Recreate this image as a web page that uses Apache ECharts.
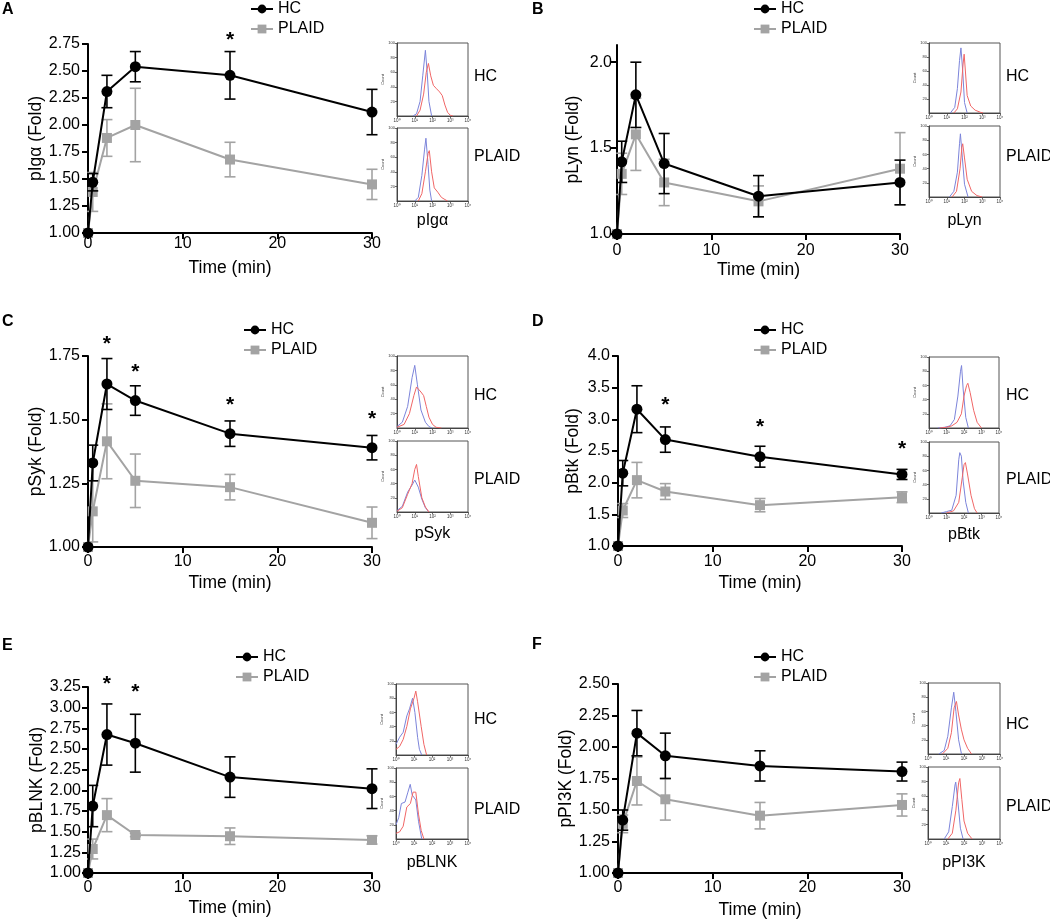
<!DOCTYPE html>
<html><head><meta charset="utf-8">
<script src="https://cdn.jsdelivr.net/npm/echarts@6/dist/echarts.min.js"></script>
<style>html,body{margin:0;padding:0;background:#fff}#c{width:1050px;height:920px}</style>
</head><body><div id="c"></div>
<script>
// ---------------- DATA ----------------
const time = [0, 0.5, 2, 5, 15, 30];
const xTicks = [0, 10, 20, 30];
const decadeLabels = ['10⁰', '10¹', '10²', '10³', '10⁴'];
const groups = ['HC', 'PLAID'];

const pIga_HC = [1.00, 1.47, 2.31, 2.54, 2.46, 2.12];
const pIga_HC_sem = [0, 0.08, 0.15, 0.14, 0.22, 0.21];
const pIga_PLAID = [1.00, 1.38, 1.88, 2.00, 1.68, 1.45];
const pIga_PLAID_sem = [0, 0.18, 0.17, 0.34, 0.16, 0.14];
const pIga_sig = [[15, 2.82]];

const pLyn_HC = [1.00, 1.42, 1.81, 1.41, 1.22, 1.30];
const pLyn_HC_sem = [0, 0.12, 0.19, 0.175, 0.12, 0.13];
const pLyn_PLAID = [1.00, 1.35, 1.58, 1.30, 1.19, 1.38];
const pLyn_PLAID_sem = [0, 0.12, 0.21, 0.135, 0.09, 0.21];
const pLyn_sig = [];

const pSyk_HC = [1.00, 1.33, 1.64, 1.575, 1.445, 1.39];
const pSyk_HC_sem = [0, 0.07, 0.10, 0.058, 0.05, 0.048];
const pSyk_PLAID = [1.00, 1.14, 1.415, 1.26, 1.235, 1.095];
const pSyk_PLAID_sem = [0, 0.12, 0.147, 0.105, 0.05, 0.062];
const pSyk_sig = [[2, 1.813], [5, 1.703], [15, 1.571], [30, 1.519]];

const pBtk_HC = [1.00, 2.15, 3.16, 2.68, 2.41, 2.13];
const pBtk_HC_sem = [0, 0.20, 0.37, 0.20, 0.165, 0.08];
const pBtk_PLAID = [1.00, 1.56, 2.04, 1.86, 1.645, 1.77];
const pBtk_PLAID_sem = [0, 0.11, 0.28, 0.125, 0.105, 0.085];
const pBtk_sig = [[5, 3.28], [15, 2.94], [30, 2.59]];

const pBLNK_HC = [1.00, 1.81, 2.675, 2.57, 2.16, 2.02];
const pBLNK_HC_sem = [0, 0.25, 0.37, 0.35, 0.245, 0.24];
const pBLNK_PLAID = [1.00, 1.29, 1.70, 1.46, 1.445, 1.40];
const pBLNK_PLAID_sem = [0, 0.12, 0.20, 0.02, 0.10, 0.05];
const pBLNK_sig = [[2, 3.33], [5, 3.24]];

const pPI3K_HC = [1.00, 1.42, 2.11, 1.93, 1.85, 1.805];
const pPI3K_HC_sem = [0, 0.08, 0.18, 0.18, 0.12, 0.075];
const pPI3K_PLAID = [1.00, 1.39, 1.73, 1.585, 1.455, 1.54];
const pPI3K_PLAID_sem = [0, 0.07, 0.19, 0.165, 0.105, 0.088];
const pPI3K_sig = [];

// flow histograms: [log10 intensity, count]; blue = unstimulated, red = stimulated
const hist_pIga_HC_blue = [[0.9,0],[1.1,3],[1.3,20],[1.45,55],[1.6,90],[1.7,60],[1.8,20],[1.95,0]];
const hist_pIga_HC_red = [[1.1,0],[1.3,8],[1.5,30],[1.65,60],[1.77,72],[1.9,55],[2.05,42],[2.2,38],[2.4,33],[2.55,28],[2.7,15],[2.85,5],[3.0,1],[3.15,0]];
const hist_pIga_PLAID_blue = [[1.0,0],[1.2,5],[1.4,35],[1.55,70],[1.63,86],[1.75,50],[1.85,15],[1.95,0]];
const hist_pIga_PLAID_red = [[1.2,0],[1.4,10],[1.6,40],[1.75,65],[1.82,69],[1.95,40],[2.1,18],[2.3,12],[2.5,5],[2.7,2],[2.85,0]];

const hist_pLyn_HC_blue = [[1.2,0],[1.45,8],[1.6,35],[1.72,75],[1.8,93],[1.9,60],[2.0,15],[2.15,0]];
const hist_pLyn_HC_red = [[1.4,0],[1.6,6],[1.8,30],[1.92,70],[1.98,84],[2.05,60],[2.15,25],[2.35,10],[2.6,4],[2.9,1],[3.05,0]];
const hist_pLyn_PLAID_blue = [[1.15,0],[1.4,8],[1.6,35],[1.72,75],[1.77,89],[1.88,55],[2.0,18],[2.2,0]];
const hist_pLyn_PLAID_red = [[1.3,0],[1.55,8],[1.75,40],[1.85,70],[1.9,75],[2.0,55],[2.15,25],[2.4,8],[2.7,2],[3.0,0]];

const hist_pSyk_HC_blue = [[0,2],[0.3,8],[0.6,30],[0.85,70],[1.0,87],[1.15,60],[1.35,25],[1.6,8],[1.8,2],[1.97,0]];
const hist_pSyk_HC_red = [[0,1],[0.4,5],[0.7,20],[0.95,45],[1.1,57],[1.2,59],[1.35,50],[1.5,45],[1.65,30],[1.8,15],[2.0,5],[2.2,1],[2.5,0]];
const hist_pSyk_PLAID_blue = [[0,2],[0.3,8],[0.6,28],[0.85,38],[1.0,45],[1.07,47],[1.2,35],[1.4,18],[1.6,6],[1.8,0]];
const hist_pSyk_PLAID_red = [[0,1],[0.3,6],[0.6,25],[0.85,40],[1.0,60],[1.1,67],[1.2,50],[1.4,20],[1.6,7],[1.8,0]];

const hist_pBtk_HC_blue = [[0.5,0],[0.9,1],[1.2,3],[1.45,12],[1.65,45],[1.8,80],[1.86,88],[1.95,55],[2.1,15],[2.25,0]];
const hist_pBtk_HC_red = [[0.6,0],[1.0,1],[1.3,3],[1.6,8],[1.85,20],[2.0,45],[2.15,60],[2.22,63],[2.35,50],[2.55,25],[2.75,8],[3.0,0]];
const hist_pBtk_PLAID_blue = [[0.7,0],[1.0,2],[1.3,4],[1.55,25],[1.7,75],[1.76,85],[1.85,80],[1.95,45],[2.1,15],[2.25,0]];
const hist_pBtk_PLAID_red = [[1.0,0],[1.4,3],[1.7,15],[1.9,50],[2.0,68],[2.08,71],[2.2,55],[2.4,25],[2.6,6],[2.75,0]];

const hist_pBLNK_HC_blue = [[0,15],[0.2,25],[0.4,32],[0.6,55],[0.75,65],[0.92,80],[1.05,60],[1.2,25],[1.3,8],[1.43,0]];
const hist_pBLNK_HC_red = [[0,8],[0.2,12],[0.4,22],[0.6,40],[0.8,65],[1.0,80],[1.1,90],[1.2,75],[1.4,40],[1.55,15],[1.7,0]];
const hist_pBLNK_PLAID_blue = [[0,20],[0.15,30],[0.3,50],[0.5,52],[0.65,65],[0.79,77],[0.9,62],[1.1,55],[1.25,25],[1.43,0]];
const hist_pBLNK_PLAID_red = [[0,8],[0.2,10],[0.4,18],[0.6,45],[0.8,50],[0.95,66],[1.1,66],[1.25,35],[1.4,12],[1.55,0]];

const hist_pPI3K_HC_blue = [[0.6,0],[0.9,5],[1.1,25],[1.3,65],[1.43,87],[1.55,60],[1.7,20],[1.86,0]];
const hist_pPI3K_HC_red = [[0.8,0],[1.1,8],[1.3,30],[1.45,65],[1.58,74],[1.7,55],[1.85,35],[2.0,20],[2.2,8],[2.42,0]];
const hist_pPI3K_PLAID_blue = [[0.9,0],[1.15,10],[1.35,45],[1.5,75],[1.54,79],[1.65,55],[1.8,15],[1.95,0]];
const hist_pPI3K_PLAID_red = [[1.1,0],[1.35,8],[1.55,40],[1.7,78],[1.77,84],[1.88,55],[2.0,25],[2.2,8],[2.45,0]];

// ---------------- LAYOUT / STYLE ----------------
const FONT = "'Liberation Sans', Arial, Helvetica, sans-serif";
const BLACK = '#000000', GRAY = '#a3a3a3', HBLUE = '#7c84da', HRED = '#f06666';

const panels = [
  {letter:'A', marker:'pIgα', yTitle:'pIgα (Fold)', hc:pIga_HC, hcErr:pIga_HC_sem, pl:pIga_PLAID, plErr:pIga_PLAID_sem, sig:pIga_sig,
   yMin:1, yMax:2.75, yStep:0.25, dec:2,
   hist:[hist_pIga_HC_blue, hist_pIga_HC_red, hist_pIga_PLAID_blue, hist_pIga_PLAID_red],
   L:{grid:{left:88,top:44,width:284,height:189}, yNameGap:40, xNameGap:26, xLabMargin:3, yLabMargin:8, legend:{left:245,top:-4}, letterPos:[2,2],
      inset:{left:397,top1:43,top2:128,w:71,h1:73,h2:73,textX:474,hcY:77,plY:157,nameGap:12}}},
  {letter:'B', marker:'pLyn', yTitle:'pLyn (Fold)', hc:pLyn_HC, hcErr:pLyn_HC_sem, pl:pLyn_PLAID, plErr:pLyn_PLAID_sem, sig:pLyn_sig,
   yMin:1, yMax:2.1, yStep:0.5, dec:1, yCustom:[1.0,1.5,2.0],
   hist:[hist_pLyn_HC_blue, hist_pLyn_HC_red, hist_pLyn_PLAID_blue, hist_pLyn_PLAID_red],
   L:{grid:{left:617,top:45,width:283,height:189}, yNameGap:35, xNameGap:27, xLabMargin:9, yLabMargin:5, legend:{left:748,top:-4}, letterPos:[532,2],
      inset:{left:929,top1:43,top2:126,w:71,h1:70,h2:71,textX:1006,hcY:77,plY:157,nameGap:16}}},
  {letter:'C', marker:'pSyk', yTitle:'pSyk (Fold)', hc:pSyk_HC, hcErr:pSyk_HC_sem, pl:pSyk_PLAID, plErr:pSyk_PLAID_sem, sig:pSyk_sig,
   yMin:1, yMax:1.75, yStep:0.25, dec:2,
   hist:[hist_pSyk_HC_blue, hist_pSyk_HC_red, hist_pSyk_PLAID_blue, hist_pSyk_PLAID_red],
   L:{grid:{left:88,top:356,width:284,height:191}, yNameGap:40, xNameGap:27, xLabMargin:7, yLabMargin:8, legend:{left:238,top:317}, letterPos:[2,314],
      inset:{left:397,top1:356,top2:441,w:71,h1:72,h2:71,textX:474,hcY:396,plY:480,nameGap:14}}},
  {letter:'D', marker:'pBtk', yTitle:'pBtk (Fold)', hc:pBtk_HC, hcErr:pBtk_HC_sem, pl:pBtk_PLAID, plErr:pBtk_PLAID_sem, sig:pBtk_sig,
   yMin:1, yMax:4, yStep:0.5, dec:1,
   hist:[hist_pBtk_HC_blue, hist_pBtk_HC_red, hist_pBtk_PLAID_blue, hist_pBtk_PLAID_red],
   L:{grid:{left:618,top:356,width:284,height:190}, yNameGap:36, xNameGap:28, xLabMargin:8, yLabMargin:8, legend:{left:748,top:317}, letterPos:[532,314],
      inset:{left:929,top1:357,top2:442,w:70,h1:71,h2:71,textX:1006,hcY:396,plY:480,nameGap:14}}},
  {letter:'E', marker:'pBLNK', yTitle:'pBLNK (Fold)', hc:pBLNK_HC, hcErr:pBLNK_HC_sem, pl:pBLNK_PLAID, plErr:pBLNK_PLAID_sem, sig:pBLNK_sig,
   yMin:1, yMax:3.25, yStep:0.25, dec:2,
   hist:[hist_pBLNK_HC_blue, hist_pBLNK_HC_red, hist_pBLNK_PLAID_blue, hist_pBLNK_PLAID_red],
   L:{grid:{left:88,top:687,width:284,height:186}, yNameGap:40, xNameGap:26, xLabMargin:7, yLabMargin:7, legend:{left:230,top:644}, letterPos:[2,638],
      inset:{left:396,top1:684,top2:768,w:72,h1:71,h2:71,textX:474,hcY:720,plY:810,nameGap:16}}},
  {letter:'F', marker:'pPI3K', yTitle:'pPI3K (Fold)', hc:pPI3K_HC, hcErr:pPI3K_HC_sem, pl:pPI3K_PLAID, plErr:pPI3K_PLAID_sem, sig:pPI3K_sig,
   yMin:1, yMax:2.5, yStep:0.25, dec:2,
   hist:[hist_pPI3K_HC_blue, hist_pPI3K_HC_red, hist_pPI3K_PLAID_blue, hist_pPI3K_PLAID_red],
   L:{grid:{left:618,top:684,width:284,height:189}, yNameGap:37, xNameGap:28, xLabMargin:7, yLabMargin:8, legend:{left:748,top:644}, letterPos:[532,637],
      inset:{left:928,top1:683,top2:767,w:72,h1:71,h2:72,textX:1006,hcY:725,plY:807,nameGap:16}}}
];

function errRender(color) {
  return function (params, api) {
    const x = api.value(0), y = api.value(1), e = api.value(2);
    if (!e) return null;
    const top = api.coord([x, y + e]);
    const bot = api.coord([x, y - e]);
    const hw = 5.5;
    const style = {stroke: color, lineWidth: 1.6};
    return {type: 'group', children: [
      {type: 'line', shape: {x1: top[0], y1: top[1], x2: bot[0], y2: bot[1]}, style},
      {type: 'line', shape: {x1: top[0] - hw, y1: top[1], x2: top[0] + hw, y2: top[1]}, style},
      {type: 'line', shape: {x1: bot[0] - hw, y1: bot[1], x2: bot[0] + hw, y2: bot[1]}, style}
    ]};
  };
}
function sigRender(params, api) {
  const p = api.coord([api.value(0), api.value(1)]);
  return {type: 'text', x: p[0], y: p[1] + 4,
    style: {text: '*', font: 'bold 21px ' + FONT, fill: '#000', align: 'center', verticalAlign: 'middle'}};
}

const grids = [], xAxes = [], yAxes = [], series = [], legends = [], graphics = [];

panels.forEach((p) => {
  const L = p.L;
  const gi = grids.length;
  grids.push(Object.assign({containLabel: false}, L.grid));
  xAxes.push({
    gridIndex: gi, type: 'value', min: 0, max: 30, interval: 10,
    name: 'Time (min)', nameLocation: 'middle', nameGap: L.xNameGap,
    nameTextStyle: {fontSize: 17.5, color: '#000', fontFamily: FONT},
    axisLine: {show: true, onZero: false, lineStyle: {color: BLACK, width: 2}},
    axisTick: {show: true, length: 6, lineStyle: {color: BLACK, width: 2}},
    axisLabel: {fontSize: 16, color: '#000', fontFamily: FONT, margin: L.xLabMargin},
    splitLine: {show: false}
  });
  const yAx = {
    gridIndex: gi, type: 'value', min: p.yMin, max: p.yMax, interval: p.yStep,
    name: p.yTitle, nameLocation: 'middle', nameGap: L.yNameGap, nameRotate: 90,
    nameTextStyle: {fontSize: 17.5, color: '#000', fontFamily: FONT},
    axisLine: {show: true, onZero: false, lineStyle: {color: BLACK, width: 2}},
    axisTick: {show: true, length: 6, lineStyle: {color: BLACK, width: 2}},
    axisLabel: {fontSize: 16, color: '#000', fontFamily: FONT, margin: L.yLabMargin,
      formatter: (v) => Number(v).toFixed(p.dec)},
    splitLine: {show: false}
  };
  if (p.yCustom) {
    yAx.axisLabel.customValues = p.yCustom;
    yAx.axisTick.customValues = p.yCustom;
  }
  yAxes.push(yAx);

  const mk = (vals, errs) => time.map((t, i) => [t, vals[i], errs[i]]);
  series.push({type: 'custom', name: 'PLAID_err', xAxisIndex: gi, yAxisIndex: gi, renderItem: errRender(GRAY),
    data: mk(p.pl, p.plErr), encode: {x: 0, y: 1}, clip: false, silent: true, z: 2});
  series.push({type: 'line', name: 'PLAID', xAxisIndex: gi, yAxisIndex: gi, data: time.map((t, i) => [t, p.pl[i]]),
    symbol: 'rect', symbolSize: 10, color: GRAY, itemStyle: {color: GRAY}, lineStyle: {color: GRAY, width: 2}, z: 3, clip: false});
  series.push({type: 'custom', name: 'HC_err', xAxisIndex: gi, yAxisIndex: gi, renderItem: errRender(BLACK),
    data: mk(p.hc, p.hcErr), encode: {x: 0, y: 1}, clip: false, silent: true, z: 4});
  series.push({type: 'line', name: 'HC', xAxisIndex: gi, yAxisIndex: gi, data: time.map((t, i) => [t, p.hc[i]]),
    symbol: 'circle', symbolSize: 11, color: BLACK, itemStyle: {color: BLACK}, lineStyle: {color: BLACK, width: 2}, z: 5, clip: false});
  if (p.sig.length) {
    series.push({type: 'custom', name: 'sig', xAxisIndex: gi, yAxisIndex: gi, renderItem: sigRender,
      data: p.sig, encode: {x: 0, y: 1}, clip: false, silent: true, z: 6});
  }

  legends.push({
    data: groups, left: L.legend.left, top: L.legend.top, orient: 'vertical',
    itemWidth: 22, itemHeight: 11, itemGap: 4, selectedMode: false,
    textStyle: {fontSize: 16, color: '#000', fontFamily: FONT}
  });

  graphics.push({type: 'text', x: L.letterPos[0], y: L.letterPos[1],
    style: {text: p.letter, font: 'bold 16px ' + FONT, fill: '#000'}});

  // flow-cytometry insets
  const I = L.inset;
  [[I.top1, I.h1, 0, 'HC', I.hcY], [I.top2, I.h2, 2, 'PLAID', I.plY]].forEach(([top, h, hi, lab, ly], k) => {
    const g = grids.length;
    grids.push({left: I.left, top: top, width: I.w, height: h, show: true, borderColor: '#555', borderWidth: 1, backgroundColor: 'transparent'});
    xAxes.push({
      gridIndex: g, type: 'value', min: 0, max: 4, interval: 1,
      name: k === 1 ? p.marker : '', nameLocation: 'middle', nameGap: I.nameGap,
      nameTextStyle: {fontSize: 16, color: '#000', fontFamily: FONT},
      axisLine: {show: true, lineStyle: {color: '#444', width: 1}},
      axisTick: {show: true, length: 2, lineStyle: {color: '#444', width: 0.8}},
      axisLabel: {fontSize: 4.5, color: '#333', margin: 2, fontFamily: FONT, formatter: (v) => decadeLabels[v]},
      splitLine: {show: false}
    });
    yAxes.push({
      gridIndex: g, type: 'value', min: 0, max: 100, interval: 20,
      name: 'Count', nameLocation: 'middle', nameGap: 10,
      nameTextStyle: {fontSize: 4, color: '#333', fontFamily: FONT},
      axisLine: {show: true, lineStyle: {color: '#444', width: 1}},
      axisTick: {show: true, length: 2, lineStyle: {color: '#444', width: 0.8}},
      axisLabel: {fontSize: 4, color: '#333', margin: 2, fontFamily: FONT, showMinLabel: false},
      splitLine: {show: false}
    });
    series.push({type: 'line', name: 'iso', xAxisIndex: g, yAxisIndex: g, data: p.hist[hi], symbol: 'none',
      lineStyle: {color: HBLUE, width: 1}, color: HBLUE, silent: true, z: 2});
    series.push({type: 'line', name: 'stim', xAxisIndex: g, yAxisIndex: g, data: p.hist[hi + 1], symbol: 'none',
      lineStyle: {color: HRED, width: 1}, color: HRED, silent: true, z: 2});
    graphics.push({type: 'text', x: I.textX, y: ly,
      style: {text: lab, font: '16px ' + FONT, fill: '#000', verticalAlign: 'middle'}});
  });
});

const chart = echarts.init(document.getElementById('c'), null, {renderer: 'canvas'});
chart.setOption({
  backgroundColor: '#ffffff',
  animation: false,
  textStyle: {fontFamily: FONT},
  grid: grids, xAxis: xAxes, yAxis: yAxes, series: series, legend: legends, graphic: graphics
});
</script>
</body></html>
